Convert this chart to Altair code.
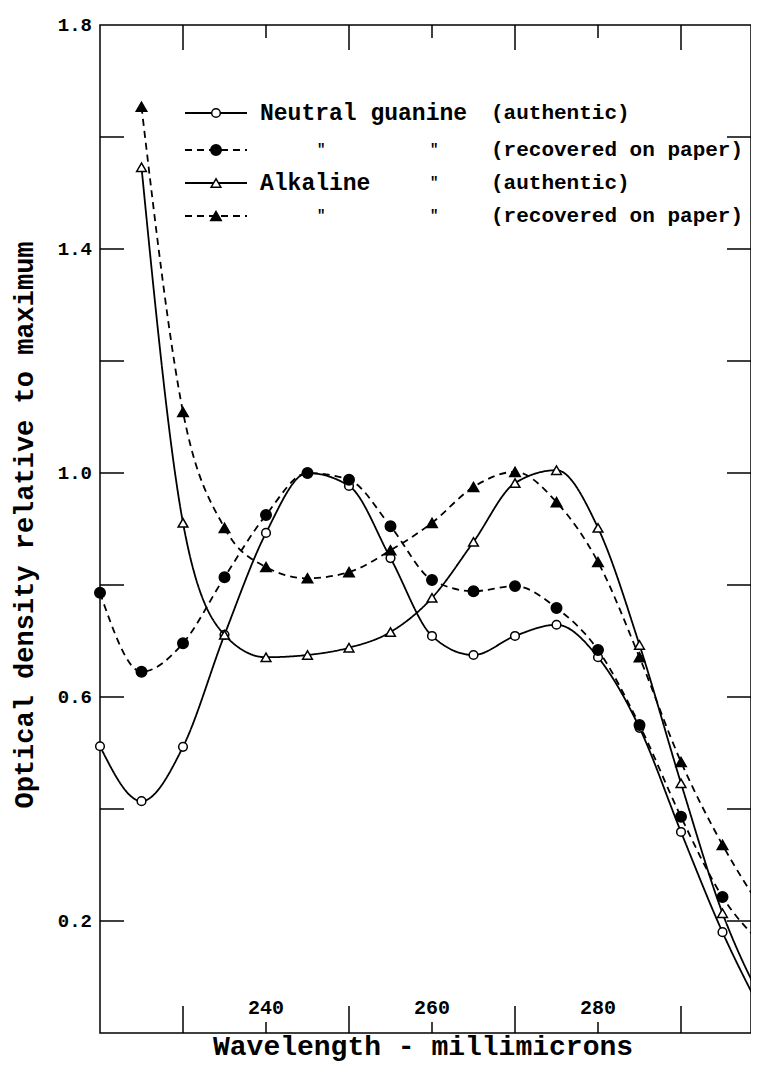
import altair as alt
import pandas as pd

# ---------------- data ----------------
wavelength = [220, 225, 230, 235, 240, 245, 250, 255, 260, 265, 270, 275, 280, 285, 290, 295, 300]
neutral_authentic = [0.512, 0.414, 0.511, 0.711, 0.893, 1.000, 0.977, 0.848, 0.709, 0.675, 0.709, 0.729, 0.671, 0.545, 0.359, 0.180, 0.03]
neutral_recovered = [0.786, 0.645, 0.696, 0.814, 0.925, 1.000, 0.988, 0.905, 0.809, 0.789, 0.798, 0.759, 0.684, 0.550, 0.386, 0.243, 0.155]
alkaline_authentic = [None, 1.546, 0.911, 0.711, 0.671, 0.675, 0.688, 0.716, 0.777, 0.877, 0.982, 1.005, 0.902, 0.693, 0.446, 0.214, 0.05]
alkaline_recovered = [None, 1.654, 1.109, 0.902, 0.832, 0.812, 0.823, 0.862, 0.911, 0.975, 1.002, 0.948, 0.841, 0.671, 0.484, 0.336, 0.215]
last_marked = 295  # markers are plotted up to here; the curves run on past the frame

y_minor_ticks = [0.2, 0.4, 0.6, 0.8, 1.0, 1.2, 1.4, 1.6]
y_tick_labels = [0.2, 0.6, 1.0, 1.4, 1.8]
x_long_ticks = [230, 250, 270, 290]
x_short_ticks = [240, 260, 280]
x_tick_labels = [240, 260, 280]

x_title = "Wavelength - millimicrons"
y_title = "Optical density relative to maximum"

series_names = ["Neutral guanine (authentic)", "Neutral guanine (recovered on paper)",
                "Alkaline (authentic)", "Alkaline (recovered on paper)"]
series_values = [neutral_authentic, neutral_recovered, alkaline_authentic, alkaline_recovered]
legend_main = ["Neutral guanine", "", "Alkaline", ""]
legend_ditto1 = ["", "\"", "", "\""]
legend_ditto2 = ["", "\"", "\"", "\""]
legend_note = ["(authentic)", "(recovered on paper)", "(authentic)", "(recovered on paper)"]

# ---------------- styling ----------------
W, H = 651, 1008
X_MAX = 220 + W / 8.3   # 8.3 px per millimicron, as in the original
FONT = "Liberation Mono"
styles = [
    dict(dash=[1, 0], shape="circle", fill="white", size=75),
    dict(dash=[7, 5], shape="circle", fill="black", size=110),
    dict(dash=[1, 0], shape="triangle-up", fill="white", size=95),
    dict(dash=[7, 5], shape="triangle-up", fill="black", size=110),
]

xs = alt.Scale(domain=[220, X_MAX], nice=False, zero=False)
ys = alt.Scale(domain=[0, 1.8], nice=False, zero=False)
X = lambda f: alt.X(f, type="quantitative", scale=xs, axis=None)
Y = lambda f: alt.Y(f, type="quantitative", scale=ys, axis=None)

layers = []
for name, vals, st in zip(series_names, series_values, styles):
    df = pd.DataFrame({"wl": wavelength, "od": vals, "series": name}).dropna()
    layers.append(
        alt.Chart(df).mark_line(color="black", strokeWidth=1.8, strokeDash=st["dash"],
                                interpolate="monotone", clip=True)
        .encode(x=X("wl"), y=Y("od"))
    )
    layers.append(
        alt.Chart(df[df.wl <= last_marked]).mark_point(
            shape=st["shape"], filled=True, fill=st["fill"], stroke="black",
            strokeWidth=1.5, size=st["size"], opacity=1)
        .encode(x=X("wl"), y=Y("od"))
    )

# ---------------- inward ticks & labels ----------------
TL = 24
ydf = pd.DataFrame({"v": y_minor_ticks})
layers.append(alt.Chart(ydf).mark_rule(color="black", strokeWidth=1.5)
              .encode(y=Y("v"), x=alt.value(0), x2=alt.value(TL)))
layers.append(alt.Chart(ydf).mark_rule(color="black", strokeWidth=1.5)
              .encode(y=Y("v"), x=alt.value(W), x2=alt.value(W - TL)))
ylab = pd.DataFrame({"v": y_tick_labels, "t": [f"{v:.1f}" for v in y_tick_labels]})
layers.append(alt.Chart(ylab).mark_text(align="right", baseline="middle", font=FONT,
                                         fontSize=19, fontWeight="bold", dx=-8)
              .encode(y=Y("v"), x=alt.value(0), text="t:N"))

xl = pd.DataFrame({"v": x_long_ticks})
xsh = pd.DataFrame({"v": x_short_ticks})
layers.append(alt.Chart(xl).mark_rule(color="black", strokeWidth=1.5)
              .encode(x=X("v"), y=alt.value(H), y2=alt.value(H - 27)))
layers.append(alt.Chart(xl).mark_rule(color="black", strokeWidth=1.5)
              .encode(x=X("v"), y=alt.value(0), y2=alt.value(25)))
layers.append(alt.Chart(xsh).mark_rule(color="black", strokeWidth=1.5)
              .encode(x=X("v"), y=alt.value(H), y2=alt.value(H - 11)))
layers.append(alt.Chart(xsh).mark_rule(color="black", strokeWidth=1.5)
              .encode(x=X("v"), y=alt.value(0), y2=alt.value(13)))
xlab = pd.DataFrame({"v": x_tick_labels, "t": [str(v) for v in x_tick_labels]})
layers.append(alt.Chart(xlab).mark_text(align="center", baseline="alphabetic", font=FONT,
                                         fontSize=20, fontWeight="bold")
              .encode(x=X("v"), y=alt.value(H - 19), text="t:N"))

# ---------------- axis titles ----------------
layers.append(alt.Chart(pd.DataFrame({"t": [x_title]})).mark_text(
    align="center", baseline="alphabetic", font=FONT, fontSize=28, fontWeight="bold")
    .encode(x=alt.value(323), y=alt.value(1030), text="t:N"))
layers.append(alt.Chart(pd.DataFrame({"t": [y_title]})).mark_text(
    align="center", baseline="middle", font=FONT, fontSize=27, fontWeight="bold", angle=270)
    .encode(x=alt.value(-75), y=alt.value(500), text="t:N"))

# ---------------- legend ----------------
row_y = [88, 125, 158, 191]
for i, st in enumerate(styles):
    ry = row_y[i]
    one = pd.DataFrame({"main": [legend_main[i]], "d1": [legend_ditto1[i]],
                        "d2": [legend_ditto2[i]], "note": [legend_note[i]]})
    layers.append(alt.Chart(one).mark_rule(color="black", strokeWidth=1.8, strokeDash=st["dash"])
                  .encode(x=alt.value(85), x2=alt.value(147), y=alt.value(ry)))
    layers.append(alt.Chart(one).mark_point(shape=st["shape"], filled=True, fill=st["fill"],
                                            stroke="black", strokeWidth=1.5, size=st["size"], opacity=1)
                  .encode(x=alt.value(116), y=alt.value(ry)))
    for col, px, fs in [("main", 160, 23), ("d1", 217, 14), ("d2", 330, 14), ("note", 391, 21)]:
        layers.append(alt.Chart(one).mark_text(align="left", baseline="middle", font=FONT,
                                               fontSize=fs, fontWeight="bold")
                      .encode(x=alt.value(px), y=alt.value(ry), text=f"{col}:N"))

chart = alt.layer(*layers).properties(
    width=W, height=H,
    autosize=alt.AutoSizeParams(type="none"),
    padding={"left": 92, "top": 17, "right": 0, "bottom": 31},
).configure_view(stroke="black", strokeWidth=1.5)

chart.save("out.html", embed_options={"renderer": "svg", "actions": False})
